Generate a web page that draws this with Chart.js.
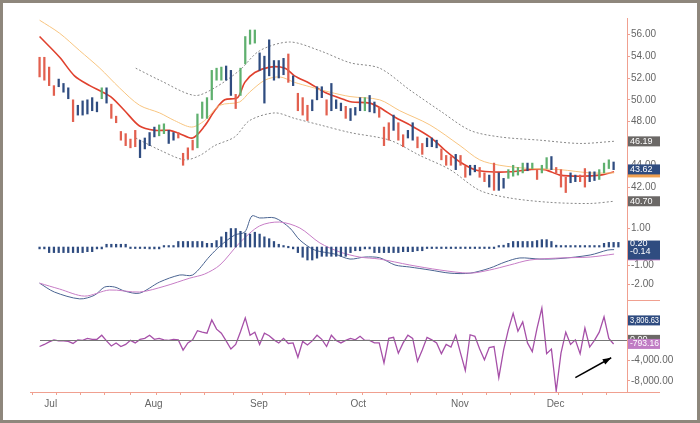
<!DOCTYPE html>
<html><head><meta charset="utf-8">
<script src="https://cdn.jsdelivr.net/npm/chart.js@4/dist/chart.umd.min.js"></script>
<style>html,body{margin:0;padding:0;background:#fff}#w{width:700px;height:423px}</style>
</head><body><div id="w"><canvas id="c"></canvas></div>
<script>
const barHigh=[53.9,53.9,53.0,51.3,51.9,51.5,51.1,50.0,49.5,49.9,50.0,50.2,49.8,51.1,51.1,49.6,48.5,47.1,46.9,46.4,47.2,46.3,46.5,47.0,47.5,47.7,47.8,47.2,47.0,47.0,45.1,45.6,46.3,48.7,49.8,50.2,52.7,52.9,53.0,53.1,52.7,50.5,52.9,55.8,56.4,56.4,54.3,54.0,55.5,53.6,53.6,53.8,54.2,52.2,50.6,50.2,49.5,50.0,51.2,51.2,50.0,51.5,50.0,49.7,49.4,49.2,49.3,50.2,50.2,50.4,49.8,49.3,47.5,47.9,48.6,47.9,46.8,47.2,47.9,46.6,46.0,46.5,46.5,46.3,45.5,44.9,44.8,45.0,44.9,43.9,44.0,44.0,43.8,43.3,43.1,44.2,43.3,42.8,43.6,44.0,43.8,44.2,44.2,44.2,43.6,44.0,44.7,44.8,43.8,43.6,42.9,43.3,43.1,43.1,43.7,43.4,43.4,43.6,44.2,44.5,44.3];
const barLow=[52.1,51.8,51.3,50.4,51.2,50.7,50.1,48.0,48.6,48.6,48.7,49.0,48.9,50.1,49.7,48.3,47.9,46.3,45.8,45.6,45.7,44.7,45.5,45.8,46.6,46.7,46.9,46.0,46.3,46.5,44.0,44.6,45.4,45.6,48.3,48.3,50.0,51.8,51.8,51.8,50.4,49.2,50.4,53.3,55.1,55.2,52.7,49.7,52.2,51.8,52.0,52.3,51.6,51.3,49.0,48.6,48.1,49.0,50.0,50.2,48.6,49.0,49.2,49.0,48.3,48.1,48.6,49.0,49.0,48.9,48.8,48.4,45.8,46.3,47.2,46.3,45.7,46.5,46.3,45.6,45.0,45.7,45.7,45.6,44.5,44.0,44.0,43.6,44.0,42.9,43.1,43.4,42.9,42.5,42.0,41.7,41.7,41.9,42.8,43.0,43.1,43.3,43.5,43.7,42.7,43.3,43.7,43.6,43.3,42.0,41.5,42.4,42.5,42.5,42.0,42.5,42.6,42.7,43.3,43.7,43.6];
const barColorCodes="rrrrbbbrbbbbbgbrrrrrrbbbbggbbrrrrggggggbbrggggbbbbbbrbrrrbbbrbbbrbbbgbbrrrbrrbbrrbbbrrrbrrbbrrbrbbggggbgrggbrrrbbrrbbgggb";
const maFastX=[0,4.2,7.3,10.5,13.2,15.1,17.8,20.9,24.1,27.2,29.3,32,34.5,36.6,38.7,41.4,42.9,45,48.1,51.3,53.3,56.5,59.6,63.8,65.3,69,71.1,74.3,77.4,81.6,84.7,87.9,91,94.1,98.3,102.5,105.6,108.8,113,117.2,120.1];
const maFastY=[55.8,53.9,52.2,51.3,50.7,50.2,49.0,47.6,47.2,47.2,46.9,46.5,47.6,49.0,50.0,50.2,51.6,52.5,53.0,52.9,52.2,51.5,50.7,50.0,49.8,49.7,49.3,48.4,47.7,46.6,45.4,44.3,43.6,43.4,43.4,43.6,43.6,43.1,43.0,43.1,43.4];
const maSlowX=[0,4.2,8.4,12.6,16.7,20.9,25.1,28.2,31.8,34.5,37.7,41.8,43.9,47.1,50.2,53.3,56.5,60.7,64.9,71.1,75.3,81.6,87.9,92,96.2,102.5,108.8,115.1,120.1];
const maSlowY=[57.3,56.1,54.5,52.9,51.1,49.5,48.8,48.1,47.5,48.1,49.5,49.8,50.7,51.8,52.1,51.6,51.2,50.7,50.3,50.0,49.0,47.7,45.8,44.5,44.0,43.7,43.6,43.3,43.3];
const bandUpX=[20.1,25.1,32.4,36.6,41.8,46,52.3,58.6,64.9,71.1,77.4,83.7,90,96.2,104.6,113,120.1];
const bandUpY=[52.9,51.8,50.4,51.1,52.7,54.5,55.3,54.5,53.4,52.9,50.9,49.0,47.2,46.6,46.3,46.0,46.2];
const bandLoX=[20.1,25.1,30.3,33.5,36.6,40.8,43.9,49.2,53.3,58.6,64.9,73.2,79.5,85.8,92,98.3,106.7,115.1,120.1];
const bandLoY=[46.5,45.4,44.5,44.9,45.8,46.6,48.1,48.8,48.3,47.7,47.0,46.3,44.9,43.6,41.7,41.0,40.6,40.5,40.7];
const macdX=[0,3.1,8.4,11.5,13.6,15.7,17.8,20.9,25.1,29.3,32,35.6,37.7,40.8,42.9,44.4,46,49.2,52.3,54.4,57.5,61.7,64.9,68,71.1,74.3,77.4,81.6,85.8,90,94.1,97.3,100.4,104.6,108.8,115.1,118.8,120.1];
const macdY=[-1.95,-2.43,-2.8,-2.6,-2.16,-2.16,-2.38,-2.49,-1.89,-1.51,-1.51,-0.49,0.05,0.65,0.81,1.68,1.57,1.57,1.03,0.38,-0.16,-0.38,-0.65,-0.54,-0.58,-0.97,-1.08,-1.24,-1.41,-1.41,-1.14,-0.81,-0.59,-0.65,-0.62,-0.43,-0.16,-0.14];
const signalX=[0,4.2,9.4,14.6,20.9,26.2,31.4,34.5,37.7,41.8,46,50.2,54.4,58.6,62.8,66.9,71.1,77.4,83.7,90,94.1,98.3,102.5,108.8,115.1,120.1];
const signalY=[-1.95,-2.27,-2.65,-2.32,-2.43,-2.11,-1.68,-1.46,-0.97,0.22,1.14,1.35,1.03,0.22,-0.27,-0.54,-0.65,-0.97,-1.24,-1.41,-1.24,-0.97,-0.7,-0.59,-0.54,-0.38];
const histogram=[-0.1,-0.1,-0.3,-0.3,-0.3,-0.3,-0.3,-0.3,-0.3,-0.3,-0.25,-0.25,-0.1,-0.1,0.15,0.15,0.15,0.15,0.15,-0.05,-0.05,-0.05,-0.05,-0.1,-0.1,-0.1,0.05,0.05,0.05,0.3,0.3,0.3,0.3,0.3,0.3,0.2,0.2,0.35,0.55,0.8,1.0,1.0,0.85,0.75,0.7,0.8,0.7,0.55,0.45,0.3,0.15,0.05,0.0,-0.1,-0.3,-0.55,-0.7,-0.7,-0.6,-0.5,-0.5,-0.5,-0.5,-0.5,-0.5,-0.3,-0.2,-0.2,-0.1,-0.1,-0.3,-0.3,-0.3,-0.3,-0.3,-0.3,-0.25,-0.25,-0.25,-0.2,-0.2,-0.05,-0.05,-0.05,-0.05,-0.05,-0.05,-0.05,-0.05,-0.05,-0.05,-0.05,-0.05,-0.05,-0.05,-0.05,0.05,0.1,0.2,0.3,0.3,0.3,0.3,0.3,0.35,0.4,0.4,0.3,0.1,0.05,0.05,0.05,0.05,0.05,0.05,0.05,0.05,0.05,0.2,0.25,0.25,0.25];
const oscillator=[-1300,-900,-400,0,-200,-200,-300,-700,0,-100,300,100,100,900,-200,-1200,-600,-1300,-900,-100,-600,100,300,900,100,300,0,-100,100,0,-2000,-600,0,1800,1500,1300,3900,2100,1300,-200,-1800,-900,1600,4300,900,1500,-900,1300,800,0,-600,300,-700,-600,-3400,-300,-1000,-200,900,100,-1300,900,-100,-600,-100,300,0,700,-100,-100,-600,-600,-4500,300,500,-2600,-600,900,300,-4200,-2000,500,0,-600,-2700,-900,-1400,900,-2600,-6000,1000,700,-1800,-3900,-1500,-1300,-7400,-2000,2000,5200,1700,3500,-600,-2300,2300,6200,-2700,-1800,-10000,-2600,1500,-900,0,-2700,2300,-1400,-100,1500,4500,300,-800];
const monthTicks=[1,22,44,65,86,106];
const monthLabels=["Jul","Aug","Sep","Oct","Nov","Dec"];
const weekTicks=[1,6,11,16,22,27,32,37,44,49,54,59,65,70,75,80,86,91,96,101,106,111,116];
const priceTicks=[42,44,46,48,50,52,54,56];
const macdTicks=[1,-1,-2];
const oscTicks=[-4000,-8000];

const colMap={r:'#e2604f',b:'#2f4c80',g:'#5fb06f'};
const xy=(xs,ys)=>xs.map((x,i)=>({x,y:ys[i]}));
const priceBars=barHigh.map((h,i)=>({x:i,y:[barLow[i],h]}));
const priceCols=barHigh.map((h,i)=>colMap[barColorCodes.charAt(i)]||colMap.b);
const histBars=histogram.map((v,i)=>({x:i,y:v}));
const oscPts=oscillator.map((v,i)=>({x:i,y:v}));
const lineOpt={type:'line',pointRadius:0,borderWidth:1,tension:0.3,fill:false};

const fmt=(v,d)=>v.toLocaleString('en-US',{minimumFractionDigits:d,maximumFractionDigits:d});
const deco={id:'deco',afterDraw(ch){
 const c=ch.ctx,ya=ch.scales.yP,ym=ch.scales.yM,yo=ch.scales.yO,xa=ch.scales.x,a=ch.chartArea;
 c.save();
 c.strokeStyle='#777';c.lineWidth=1;c.beginPath();
 const z=Math.round(yo.getPixelForValue(0))+0.5;c.moveTo(a.left+10,z);c.lineTo(a.right,z);c.stroke();
 c.strokeStyle='#f0a090';
 [yo.top,yo.bottom].forEach(y=>{c.beginPath();c.moveTo(a.right,Math.round(y)+0.5);c.lineTo(660,Math.round(y)+0.5);c.stroke();});
 c.font='9px "Liberation Sans",Arial';c.textBaseline='middle';
 const box=(scale,val,txt,bg)=>{const y=scale.getPixelForValue(val);c.fillStyle=bg;c.fillRect(628,y-5,32,10);c.fillStyle='#fff';c.fillText(txt,630,y,29);};
 box(ya,46.19,'46.19','#6b6866');
 c.fillStyle='#f0a050';c.fillRect(628,ya.getPixelForValue(43.62)+4,32,4);
 box(ya,43.62,'43.62','#2f4c80');
 box(ya,40.70,'40.70','#6b6866');
 c.fillStyle='#c07cc4';c.fillRect(628,ym.getPixelForValue(-0.45)-3,32,8);
 c.fillStyle='#2f4c80';c.fillRect(628,ym.getPixelForValue(0.35),32,19);
 c.fillStyle='#fff';c.fillText('0.20',630,ym.getPixelForValue(0.2),29);c.fillText('-0.14',630,ym.getPixelForValue(-0.14)+2,29);
 box(yo,3806.63,'3,806.63','#2f4c80');
 box(yo,0,'0.00','#6b6866');
 box(yo,-793.16,'-793.16','#c07cc4');
 const x1=xa.getPixelForValue(112),y1=yo.getPixelForValue(-7400),x2=xa.getPixelForValue(119.5),y2=yo.getPixelForValue(-3500);
 c.strokeStyle='#000';c.fillStyle='#000';c.lineWidth=1.5;c.beginPath();c.moveTo(x1,y1);c.lineTo(x2,y2);c.stroke();
 const ang=Math.atan2(y2-y1,x2-x1);c.beginPath();c.moveTo(x2,y2);
 c.lineTo(x2-9*Math.cos(ang-0.35),y2-9*Math.sin(ang-0.35));c.lineTo(x2-9*Math.cos(ang+0.35),y2-9*Math.sin(ang+0.35));c.closePath();c.fill();
 c.strokeStyle='#8e877c';c.lineWidth=3;c.strokeRect(1.5,1.5,697,420);
 c.restore();
}};
const yCommon=(min,max,ticks,w)=>({type:'linear',position:'right',stack:'s',stackWeight:w,min,max,
 afterBuildTicks:s=>{s.ticks=ticks.map(v=>({value:v}));},
 afterFit:s=>{s.width=73;},
 grid:{drawOnChartArea:false,tickLength:3,color:'#f0a090'},border:{color:'#f0a090'},
 ticks:{autoSkip:false,color:'#666',font:{size:10,family:'"Liberation Sans",Arial'},padding:1,callback:v=>fmt(v,2)}});
new Chart(document.getElementById('c'),{
 type:'bar',
 data:{datasets:[
  {type:'bar',data:priceBars,yAxisID:'yP',backgroundColor:priceCols,barThickness:1.6,grouped:false},
  {...lineOpt,data:xy(maSlowX,maSlowY),yAxisID:'yP',borderColor:'#f8c580'},
  {...lineOpt,data:xy(maFastX,maFastY),yAxisID:'yP',borderColor:'#e0412e',borderWidth:1.6},
  {...lineOpt,data:xy(bandUpX,bandUpY),yAxisID:'yP',borderColor:'#888',borderDash:[2,2]},
  {...lineOpt,data:xy(bandLoX,bandLoY),yAxisID:'yP',borderColor:'#888',borderDash:[2,2]},
  {type:'bar',data:histBars,yAxisID:'yM',backgroundColor:'#2f4c80',barThickness:1.6,grouped:false,minBarLength:1.5},
  {...lineOpt,data:xy(signalX,signalY),yAxisID:'yM',borderColor:'#c77dc6'},
  {...lineOpt,data:xy(macdX,macdY),yAxisID:'yM',borderColor:'#4a6491'},
  {...lineOpt,tension:0,data:oscPts,yAxisID:'yO',borderColor:'#a650a8',borderWidth:1.3}
 ]},
 options:{responsive:true,maintainAspectRatio:false,animation:false,
  layout:{padding:{top:18,left:30,right:0,bottom:8}},
  plugins:{legend:{display:false},tooltip:{enabled:false}},
  scales:{
   x:{type:'linear',min:-2,max:122.8,offset:false,
    afterBuildTicks:s=>{s.ticks=weekTicks.map(v=>({value:v}));},
    afterFit:s=>{s.height=23;},
    grid:{drawOnChartArea:false,tickLength:3,color:'#f0a090'},border:{color:'#f0a090'},
    ticks:{maxRotation:0,autoSkip:false,align:'start',color:'#666',font:{size:10,family:'"Liberation Sans",Arial'},
     callback:v=>{const k=monthTicks.indexOf(v);return k>=0?monthLabels[k]:'';}}},
   yP:yCommon(39.9,57.5,priceTicks,192),
   yM:yCommon(-2.86,2.0,macdTicks,90),
   yO:yCommon(-10200,7800,oscTicks,92)
  }}
 ,plugins:[deco]});
</script></body></html>
